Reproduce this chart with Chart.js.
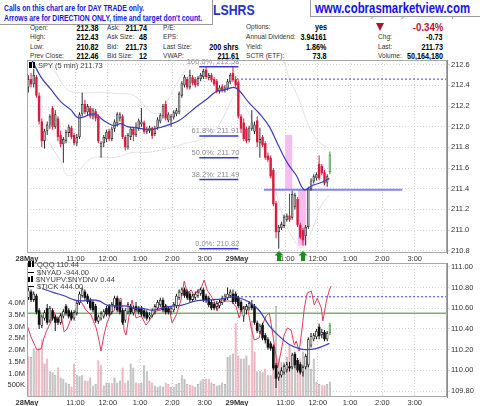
<!DOCTYPE html>
<html>
<head>
<meta charset="utf-8">
<script src="https://cdn.jsdelivr.net/npm/chart.js@4/dist/chart.umd.min.js"></script>
<style>
  body { margin: 0; width: 480px; height: 406px; overflow: hidden; background: #fff; position: relative;
         font-family: "Liberation Sans", Arial, sans-serif; }
  .abs { position: absolute; white-space: nowrap; line-height: 10px; }
  .lbl { font-size: 8px; color: #333; transform: scaleX(.82); transform-origin: left center; }
  .val { font-size: 9px; font-weight: bold; color: #000; transform: scaleX(.8); transform-origin: right center; }
  .box { position: absolute; background: #fff; border: 1px solid #9a9a9a; }
  .lg { font-size: 7.5px; color: #444; line-height: 8px; }
  canvas { position: absolute; left: 0; }
</style>
</head>
<body>

<!-- header -->
<div class="abs" style="left:352px;top:10px;font-size:8px;color:#777;">Friday&nbsp; 29 May 2015&nbsp; 12:25 pm</div>
<div class="abs" style="left:213px;top:2px;font-size:15px;line-height:16px;font-weight:bold;color:#2632c8;transform:scaleX(.82);transform-origin:left top;">LSHRS</div>
<div class="box" style="left:-1px;top:-1px;width:212px;height:24px;">
  <div class="abs" style="left:4px;top:3px;font-size:8.5px;font-weight:bold;color:#1515e6;transform:scaleX(.8);transform-origin:left center;">Calls on this chart are for DAY TRADE only.</div>
  <div class="abs" style="left:4px;top:13px;font-size:8.5px;font-weight:bold;color:#1515e6;transform:scaleX(.8);transform-origin:left center;">Arrows are for DIRECTION ONLY, time and target don't count.</div>
</div>
<div class="box" style="left:310px;top:-1px;width:171px;height:16px;">
  <div class="abs" style="left:4px;top:0px;font-size:15px;line-height:16px;font-weight:bold;color:#1212ea;transform:scaleX(.76);transform-origin:left top;">www.cobrasmarketview.com</div>
</div>

<div class="abs lbl" style="left:30px;top:23px;">Open:</div>
<div class="abs lbl" style="left:30px;top:32px;">High:</div>
<div class="abs lbl" style="left:30px;top:42px;">Low:</div>
<div class="abs lbl" style="left:30px;top:51px;">Prev Close:</div>
<div class="abs val" style="right:381px;top:23px;">212.38</div>
<div class="abs val" style="right:381px;top:32px;">212.43</div>
<div class="abs val" style="right:381px;top:42px;">210.82</div>
<div class="abs val" style="right:381px;top:51px;">212.46</div>

<div class="abs lbl" style="left:107px;top:23px;">Ask:</div>
<div class="abs lbl" style="left:107px;top:32px;">Ask Size:</div>
<div class="abs lbl" style="left:107px;top:42px;">Bid:</div>
<div class="abs lbl" style="left:107px;top:51px;">Bid Size:</div>
<div class="abs val" style="right:333px;top:23px;">211.74</div>
<div class="abs val" style="right:333px;top:32px;">48</div>
<div class="abs val" style="right:333px;top:42px;">211.73</div>
<div class="abs val" style="right:333px;top:51px;">12</div>

<div class="abs lbl" style="left:163px;top:23px;">P/E:</div>
<div class="abs lbl" style="left:163px;top:32px;">EPS:</div>
<div class="abs lbl" style="left:163px;top:42px;">Last Size:</div>
<div class="abs lbl" style="left:163px;top:51px;">VWAP:</div>
<div class="abs val" style="right:241px;top:42px;">200 shrs</div>
<div class="abs val" style="right:241px;top:51px;">211.61</div>

<div class="abs lbl" style="left:246px;top:22px;">Options:</div>
<div class="abs lbl" style="left:246px;top:32px;">Annual Dividend:</div>
<div class="abs lbl" style="left:246px;top:42px;">Yield:</div>
<div class="abs lbl" style="left:246px;top:51px;">SCTR (ETF):</div>
<div class="abs val" style="right:153px;top:22px;">yes</div>
<div class="abs val" style="right:153px;top:32px;">3.94161</div>
<div class="abs val" style="right:153px;top:42px;">1.86%</div>
<div class="abs val" style="right:153px;top:51px;">73.8</div>

<div class="abs" style="left:376px;top:23px;width:0;height:0;border-left:4.5px solid transparent;border-right:4.5px solid transparent;border-top:8px solid #9b1b30;"></div>
<div class="abs val" style="right:37px;top:21px;font-size:11.5px;line-height:12px;color:#b5123a;transform:scaleX(.84);">-0.34%</div>
<div class="abs lbl" style="left:378px;top:32px;">Chg:</div>
<div class="abs lbl" style="left:378px;top:42px;">Last:</div>
<div class="abs lbl" style="left:378px;top:51px;">Volume:</div>
<div class="abs val" style="right:37px;top:32px;">-0.73</div>
<div class="abs val" style="right:37px;top:42px;">211.73</div>
<div class="abs val" style="right:37px;top:51px;">50,164,180</div>

<canvas id="spy" width="480" height="206" style="top:58px;"></canvas>
<canvas id="qqq" width="480" height="144" style="top:262px;"></canvas>

<!-- panel legends -->
<div class="abs lg" style="left:29px;top:62px;"><span style="display:inline-block;width:3px;height:6px;background:#000;margin-right:1px;"></span><span style="display:inline-block;width:2px;height:6px;border:1px solid #000;margin-right:3px;box-sizing:border-box;"></span>SPY (5 min) 211.73</div>
<div class="abs lg" style="left:28px;top:261px;"><span style="display:inline-block;width:3px;height:6px;background:#000;margin-right:1px;"></span><span style="display:inline-block;width:2px;height:6px;border:1px solid #000;margin-right:3px;box-sizing:border-box;"></span>QQQ 110.44</div>
<div class="abs lg" style="left:28px;top:268.5px;"><span style="display:inline-block;width:6px;height:1.5px;background:#000;vertical-align:middle;margin-right:3px;"></span>$NYAD -944.00</div>
<div class="abs lg" style="left:28px;top:275.5px;"><span style="display:inline-block;width:2px;height:5px;background:#000;margin-right:1px;"></span><span style="display:inline-block;width:2px;height:6px;background:#000;margin-right:3px;"></span>$NYUPV:$NYDNV 0.44</div>
<div class="abs lg" style="left:28px;top:282.5px;"><span style="display:inline-block;width:6px;height:1.5px;background:#000;vertical-align:middle;margin-right:3px;"></span>$TICK 444.00</div>

<script>
// ---- time axis: bar index 0 = 9:30 on 28 May, 78 bars per session ----
const xTickPos = [0, 18, 30, 42, 54, 66, 78, 96, 108, 120, 132, 144];
const xTickLabels = ['28May', '11:00', '12:00', '1:00', '2:00', '3:00', '29May', '11:00', '12:00', '1:00', '2:00', '3:00'];

const spyTicks = [210.8, 210.9, 211.0, 211.1, 211.2, 211.3, 211.4, 211.5, 211.6, 211.7, 211.8, 211.9,
                  212.0, 212.1, 212.2, 212.3, 212.4, 212.5, 212.6];
const qqqTicks = [109.8, 109.9, 110.0, 110.1, 110.2, 110.3, 110.4, 110.5, 110.6, 110.7, 110.8, 110.9, 111.0];
const volTicks = [0.5, 1.0, 1.5, 2.0, 2.5, 3.0, 3.5, 4.0];          // millions of shares
const volTickLabels = ['500K', '1.0M', '1.5M', '2.0M', '2.5M', '3.0M', '3.5M', '4.0M'];

// ---- SPY 5 min candles ----
const spyOpen = [
  212.38, 212.46, 212.41, 212.48, 212.30, 212.05, 211.86, 211.96, 212.02, 212.18,
  212.00, 212.08, 211.92, 211.83, 211.86, 211.94, 211.99, 211.92, 211.84, 211.90,
  212.12, 212.22, 212.14, 212.18, 212.10, 212.15, 212.10, 211.80, 211.84, 211.88,
  211.96, 211.88, 211.98, 212.03, 212.08, 212.10, 211.90, 211.80, 211.90, 211.98,
  211.92, 211.98, 212.02, 212.04, 211.95, 211.96, 211.99, 211.93, 211.99, 212.05,
  212.10, 212.22, 212.06, 212.06, 212.09, 212.12, 212.14, 212.30, 212.40, 212.46,
  212.38, 212.48, 212.46, 212.41, 212.46, 212.48, 212.55, 212.47, 212.50, 212.46,
  212.44, 212.34, 212.39, 212.35, 212.37, 212.43, 212.52, 212.46,
  212.43, 212.10, 212.04, 211.98, 211.87, 211.98, 211.95, 212.06, 211.84, 211.90, 211.84, 211.72,
  211.70, 211.58, 211.26, 210.98, 211.02, 211.04, 211.10, 211.14, 211.12, 211.22,
  211.30, 211.05, 211.00, 210.94, 211.03, 211.40, 211.47, 211.50, 211.64, 211.62,
  211.56, 211.46, 211.56];
const spyHigh = [
  212.50, 212.52, 212.56, 212.50, 212.33, 212.08, 211.98, 212.05, 212.12, 212.20,
  212.16, 212.10, 211.96, 211.90, 211.97, 212.02, 212.01, 211.94, 211.93, 212.14,
  212.33, 212.26, 212.22, 212.20, 212.18, 212.17, 212.12, 211.86, 211.92, 211.97,
  211.98, 212.00, 212.07, 212.14, 212.14, 212.12, 211.92, 211.94, 212.00, 212.00,
  212.04, 212.08, 212.18, 212.06, 212.00, 212.01, 212.00, 212.01, 212.09, 212.13,
  212.22, 212.25, 212.14, 212.12, 212.16, 212.18, 212.34, 212.44, 212.50, 212.48,
  212.55, 212.50, 212.48, 212.49, 212.52, 212.56, 212.58, 212.52, 212.52, 212.48,
  212.46, 212.40, 212.41, 212.40, 212.46, 212.52, 212.58, 212.49,
  212.45, 212.12, 212.08, 212.00, 212.01, 212.16, 212.05, 212.10, 211.99, 211.92, 211.86, 211.75,
  211.72, 211.60, 211.28, 211.05, 211.08, 211.15, 211.16, 211.35, 211.38, 211.36,
  211.32, 211.07, 211.02, 211.05, 211.42, 211.50, 211.54, 211.56, 211.72, 211.64,
  211.58, 211.54, 211.76];
const spyLow = [
  212.33, 212.38, 212.38, 212.28, 212.02, 211.80, 211.79, 211.92, 211.98, 211.97,
  211.98, 211.86, 211.80, 211.65, 211.84, 211.90, 211.88, 211.82, 211.81, 211.88,
  212.10, 212.12, 212.11, 212.08, 212.07, 212.05, 211.84, 211.70, 211.80, 211.85,
  211.86, 211.86, 211.95, 212.00, 212.05, 211.88, 211.77, 211.78, 211.87, 211.86,
  211.90, 211.96, 212.00, 211.93, 211.93, 211.94, 211.88, 211.91, 211.97, 212.03,
  212.08, 212.06, 212.04, 212.00, 212.07, 212.10, 212.12, 212.28, 212.38, 212.36,
  212.36, 212.40, 212.38, 212.39, 212.44, 212.46, 212.46, 212.45, 212.43, 212.39,
  212.32, 212.32, 212.33, 212.33, 212.35, 212.41, 212.43, 212.38,
  212.08, 211.94, 211.86, 211.84, 211.85, 211.96, 211.93, 211.80, 211.70, 211.80, 211.68, 211.66,
  211.50, 211.23, 210.92, 210.82, 211.00, 211.02, 211.08, 211.08, 211.10, 211.20,
  211.03, 210.91, 210.85, 210.85, 211.01, 211.38, 211.45, 211.48, 211.48, 211.53,
  211.43, 211.42, 211.54];
const spyClose = [
  212.46, 212.41, 212.50, 212.30, 212.05, 211.86, 211.96, 212.02, 212.10, 212.00,
  212.12, 211.90, 211.83, 211.88, 211.95, 212.00, 211.90, 211.84, 211.90, 212.12,
  212.22, 212.14, 212.20, 212.10, 212.16, 212.08, 211.86, 211.84, 211.90, 211.95,
  211.88, 211.98, 212.05, 212.12, 212.12, 211.90, 211.80, 211.92, 211.98, 211.92,
  212.00, 212.06, 212.05, 211.95, 211.98, 211.99, 211.91, 211.99, 212.07, 212.11,
  212.20, 212.08, 212.12, 212.10, 212.14, 212.16, 212.32, 212.42, 212.48, 212.38,
  212.50, 212.42, 212.40, 212.47, 212.50, 212.54, 212.48, 212.50, 212.45, 212.41,
  212.34, 212.38, 212.35, 212.38, 212.44, 212.50, 212.45, 212.40,
  212.10, 211.98, 211.88, 211.86, 211.99, 212.04, 212.02, 211.85, 211.88, 211.82, 211.70, 211.68,
  211.52, 211.25, 210.98, 211.03, 211.06, 211.13, 211.14, 211.10, 211.35, 211.34,
  211.05, 210.93, 210.90, 211.03, 211.40, 211.48, 211.52, 211.54, 211.50, 211.55,
  211.45, 211.52, 211.73];

// SPY overlays: [bar position, price]
const spyMA = [[1.5, 212.66], [5.2, 212.48], [8.9, 212.36], [12.6, 212.24], [16.4, 212.16], [18.6, 212.09],
  [20.4, 212.09], [23.8, 212.12], [25.7, 212.12], [27.5, 212.08], [29.7, 212.04], [32.3, 212.01],
  [34.9, 212.03], [37.2, 212.00], [40.5, 211.99], [45.4, 211.97], [49.1, 211.99], [52.8, 212.02],
  [56.5, 212.06], [59.1, 212.11], [62.8, 212.19], [66.5, 212.26], [70.3, 212.34], [72.5, 212.35],
  [75.1, 212.37], [76.9, 212.38], [78.8, 212.35], [82.5, 212.23], [86.2, 212.13], [90.0, 212.00],
  [93.7, 211.80], [96.7, 211.65], [100.0, 211.53], [103.0, 211.39], [105.9, 211.43], [109.3, 211.46],
  [112.3, 211.50]];
const spyUpperBand = [[7.4, 212.70], [10.8, 212.52], [14.5, 212.37], [18.2, 212.33], [26.8, 212.33],
  [34.2, 212.32], [39.8, 212.30], [43.5, 212.21], [46.1, 212.14], [49.1, 212.13], [51.7, 212.23],
  [54.6, 212.37], [57.6, 212.50], [61.0, 212.62], [63.9, 212.72], [69.5, 212.79], [78.8, 212.79],
  [88.1, 212.74], [94.8, 212.64], [97.4, 212.47], [101.1, 212.26], [104.8, 212.00], [108.6, 211.85],
  [112.3, 211.79]];
const spyLowerBand = [[6.3, 211.92], [10.0, 211.77], [12.6, 211.66], [14.9, 211.53], [18.6, 211.56],
  [23.0, 211.68], [26.8, 211.71], [30.5, 211.70], [34.2, 211.71], [39.0, 211.75], [44.2, 211.75],
  [49.1, 211.77], [53.9, 211.80], [59.1, 211.84], [63.9, 211.87], [68.8, 211.94], [72.1, 212.05],
  [75.1, 212.21], [77.7, 212.31], [80.7, 212.21], [84.4, 212.02], [88.1, 211.77], [91.8, 211.43],
  [95.5, 211.10], [99.3, 210.90], [102.2, 210.83], [105.9, 211.00], [109.3, 211.24], [112.3, 211.34]];

const fibLevels = [212.58, 211.91, 211.70, 211.49, 210.82];
const fibLabels = ['100.0%: 212.58', '61.8%: 211.91', '50.0%: 211.70', '38.2%: 211.49', '0.0%: 210.82'];
const fibSpan = [64, 78.5];
const spyPrevClose = 212.46;
const spyLevel = 211.39;
const spyLevelSpan = [88, 139.4];
const zones = [[95.9, 98.5, 211.39, 211.92], [100.7, 103.7, 210.85, 211.39]];   // x0, x1, low, high
const arrowsAt = [93.6, 102.5];

// ---- QQQ 5 min candles ----
const qqqOpen = [
  110.70, 110.76, 110.68, 110.72, 110.58, 110.43, 110.50, 110.60, 110.48, 110.58,
  110.52, 110.50, 110.46, 110.52, 110.62, 110.58, 110.56, 110.50, 110.55, 110.65,
  110.72, 110.76, 110.72, 110.68, 110.66, 110.62, 110.47, 110.50, 110.52, 110.60,
  110.62, 110.56, 110.62, 110.70, 110.66, 110.58, 110.48, 110.56, 110.62, 110.55,
  110.62, 110.60, 110.60, 110.58, 110.56, 110.51, 110.53, 110.56, 110.60, 110.63,
  110.68, 110.62, 110.60, 110.56, 110.58, 110.62, 110.70, 110.74, 110.78, 110.76,
  110.74, 110.68, 110.70, 110.72, 110.74, 110.78, 110.72, 110.70, 110.66, 110.64,
  110.61, 110.62, 110.65, 110.68, 110.70, 110.72, 110.74, 110.74,
  110.70, 110.66, 110.52, 110.58, 110.60, 110.64, 110.62, 110.46, 110.37, 110.44, 110.34, 110.30,
  110.26, 110.23, 110.05, 109.93, 109.95, 109.98, 110.00, 110.04, 110.03, 110.16,
  110.10, 110.06, 109.98, 110.03, 110.05, 110.24, 110.30, 110.32, 110.42, 110.34,
  110.37, 110.30, 110.36];
const qqqHigh = [
  110.80, 110.78, 110.76, 110.74, 110.60, 110.54, 110.58, 110.64, 110.62, 110.60,
  110.54, 110.52, 110.55, 110.59, 110.64, 110.60, 110.58, 110.58, 110.67, 110.76,
  110.80, 110.78, 110.74, 110.70, 110.68, 110.64, 110.54, 110.57, 110.59, 110.62,
  110.64, 110.66, 110.72, 110.72, 110.68, 110.60, 110.60, 110.66, 110.64, 110.62,
  110.66, 110.62, 110.62, 110.60, 110.58, 110.56, 110.60, 110.64, 110.68, 110.70,
  110.70, 110.64, 110.62, 110.62, 110.66, 110.74, 110.78, 110.80, 110.80, 110.78,
  110.76, 110.74, 110.76, 110.78, 110.80, 110.80, 110.74, 110.72, 110.68, 110.66,
  110.67, 110.68, 110.72, 110.74, 110.80, 110.78, 110.78, 110.76,
  110.72, 110.68, 110.62, 110.64, 110.67, 110.68, 110.64, 110.48, 110.45, 110.46, 110.36, 110.32,
  110.28, 110.25, 110.07, 109.99, 110.03, 110.06, 110.08, 110.08, 110.17, 110.18,
  110.12, 110.08, 110.05, 110.16, 110.32, 110.36, 110.36, 110.40, 110.45, 110.40,
  110.39, 110.38, 110.46];
const qqqLow = [
  110.68, 110.66, 110.66, 110.54, 110.40, 110.41, 110.48, 110.44, 110.46, 110.48,
  110.38, 110.44, 110.44, 110.50, 110.53, 110.50, 110.48, 110.48, 110.53, 110.63,
  110.70, 110.68, 110.64, 110.58, 110.56, 110.46, 110.45, 110.48, 110.50, 110.52,
  110.52, 110.54, 110.60, 110.56, 110.54, 110.44, 110.46, 110.54, 110.54, 110.53,
  110.56, 110.54, 110.52, 110.50, 110.48, 110.49, 110.51, 110.54, 110.58, 110.61,
  110.56, 110.54, 110.54, 110.54, 110.56, 110.60, 110.68, 110.72, 110.70, 110.68,
  110.66, 110.66, 110.68, 110.70, 110.72, 110.66, 110.65, 110.61, 110.58, 110.58,
  110.59, 110.60, 110.63, 110.66, 110.68, 110.70, 110.64, 110.64,
  110.60, 110.56, 110.47, 110.54, 110.58, 110.58, 110.44, 110.36, 110.35, 110.29, 110.26, 110.20,
  110.19, 110.00, 109.83, 109.90, 109.93, 109.96, 109.98, 109.99, 110.01, 110.02,
  109.98, 109.96, 109.94, 110.01, 110.03, 110.22, 110.28, 110.30, 110.30, 110.31,
  110.28, 110.28, 110.34];
const qqqClose = [
  110.77, 110.68, 110.74, 110.56, 110.44, 110.52, 110.56, 110.46, 110.60, 110.50,
  110.46, 110.46, 110.53, 110.57, 110.55, 110.52, 110.50, 110.56, 110.65, 110.74,
  110.78, 110.70, 110.66, 110.60, 110.58, 110.48, 110.52, 110.55, 110.57, 110.54,
  110.54, 110.64, 110.70, 110.58, 110.56, 110.46, 110.58, 110.64, 110.56, 110.60,
  110.58, 110.56, 110.54, 110.52, 110.50, 110.54, 110.58, 110.62, 110.66, 110.68,
  110.58, 110.56, 110.56, 110.60, 110.64, 110.72, 110.76, 110.78, 110.72, 110.70,
  110.68, 110.72, 110.74, 110.76, 110.78, 110.68, 110.67, 110.63, 110.60, 110.60,
  110.65, 110.66, 110.70, 110.72, 110.74, 110.76, 110.66, 110.66,
  110.62, 110.58, 110.60, 110.62, 110.65, 110.60, 110.46, 110.38, 110.43, 110.31, 110.29, 110.22,
  110.21, 110.02, 109.92, 109.97, 110.00, 110.04, 110.06, 110.02, 110.15, 110.05,
  110.00, 109.98, 110.03, 110.14, 110.30, 110.33, 110.34, 110.38, 110.33, 110.37,
  110.30, 110.36, 110.44];

// volume in millions of shares, and whether the bar is drawn pink (1) or grey (0)
const volume = [
  1.73, 1.70, 2.07, 1.99, 2.10, 2.45, 1.43, 1.64, 1.10, 1.05,
  0.95, 1.26, 0.83, 0.78, 0.62, 0.55, 0.45, 1.43, 0.92, 0.88,
  0.92, 0.70, 0.68, 0.83, 0.49, 0.55, 1.56, 1.35, 0.49, 0.62,
  0.58, 0.58, 0.83, 0.62, 0.70, 1.26, 0.62, 0.70, 1.43, 1.26,
  0.62, 0.58, 0.62, 1.35, 1.10, 0.70, 0.62, 0.49, 0.43, 0.49,
  0.45, 0.62, 0.55, 0.43, 0.43, 0.55, 0.60, 0.92, 0.78, 0.55,
  0.52, 0.49, 0.43, 0.55, 0.70, 0.78, 0.78, 0.78, 0.62, 0.55,
  0.49, 0.52, 0.62, 0.55, 1.70, 1.78, 1.85, 3.14,
  1.77, 1.64, 1.64, 1.77, 1.35, 3.23, 1.94, 1.10, 1.10, 1.05, 1.20, 0.92,
  0.92, 1.35, 3.87, 1.64, 1.50, 1.50, 1.70, 2.20, 1.64, 1.64,
  1.20, 1.64, 1.94, 1.50, 1.50, 1.20, 1.64, 0.66, 0.55, 0.50,
  0.50, 0.55, 0.66];
const volPink = [
  1, 0, 0, 1, 1, 1, 0, 1, 0, 0,
  0, 1, 0, 0, 0, 0, 1, 1, 0, 0,
  0, 1, 1, 0, 0, 0, 1, 1, 0, 0,
  0, 1, 0, 0, 0, 1, 1, 0, 0, 0,
  1, 1, 0, 0, 0, 1, 1, 0, 0, 0,
  0, 1, 1, 0, 0, 0, 0, 0, 0, 1,
  1, 1, 0, 0, 0, 0, 1, 1, 0, 1,
  0, 0, 0, 0, 0, 0, 0, 1,
  1, 0, 0, 0, 1, 1, 1, 0, 0, 0, 1, 0,
  0, 1, 0, 1, 0, 0, 0, 1, 0, 0,
  1, 1, 0, 0, 0, 0, 0, 1, 0, 1,
  1, 0, 0];

const qqqMA = [[5.6, 110.79], [10.0, 110.75], [13.8, 110.72], [17.5, 110.68], [20.4, 110.67], [23.8, 110.68],
  [26.8, 110.67], [29.7, 110.63], [33.5, 110.62], [37.2, 110.62], [39.8, 110.60], [42.8, 110.60],
  [46.5, 110.58], [50.2, 110.60], [53.9, 110.62], [57.6, 110.63], [62.8, 110.67], [67.7, 110.68],
  [72.5, 110.69], [76.2, 110.71], [78.8, 110.70], [82.5, 110.66], [86.2, 110.58], [90.0, 110.43],
  [93.7, 110.33], [97.4, 110.25], [101.1, 110.21], [103.7, 110.20], [107.4, 110.21], [112.3, 110.26]];
// $TICK line
const tickLine = [[0, -24], [1.5, -168], [3.7, -324], [5.2, -312], [6.3, -180], [7.4, -84], [8.9, 12],
  [10.0, 132], [11.2, 24], [12.6, 108], [13.8, -108], [14.9, -72], [16.4, 60], [17.5, 96], [19.3, 264],
  [20.4, 240], [21.9, 156], [23.8, 96], [25.7, -60], [26.8, -216], [27.5, -336], [28.6, -144], [29.7, 0],
  [31.2, 120], [32.3, 144], [33.5, 264], [34.9, 300], [35.5, 144], [36.1, -96], [36.8, -144], [37.9, 84],
  [39.0, 276], [40.5, 60], [42.4, 84], [44.2, -24], [45.4, 24], [46.5, 84], [48.0, 144], [49.8, 156],
  [51.7, 216], [52.8, 180], [53.9, 0], [55.4, 96], [57.2, 276], [58.4, 504], [59.5, 360], [61.0, 396],
  [62.1, 324], [63.2, 384], [64.7, 420], [65.8, 516], [66.9, 396], [68.4, 324], [69.5, 264], [70.6, 144],
  [72.1, 276], [73.2, 264], [75.1, 264], [76.2, 252], [77.7, 192], [78.8, 60], [79.9, 180], [81.8, 204],
  [83.3, -60], [84.4, -204], [86.2, -180], [87.4, -24], [88.8, 84], [90.0, 120], [91.1, -96], [92.6, -420],
  [93.1, -540], [94.4, -336], [95.5, -144], [96.7, -60], [98.1, -84], [99.3, -264], [100.0, -216],
  [101.1, -336], [102.2, -60], [103.0, 180], [104.1, 360], [105.6, 384], [106.7, 216], [107.8, 300],
  [109.3, 180], [109.9, 24], [111.2, 264], [112.3, 396], [113.0, 444]];
const qqqPrevClose = 110.71;
const qqqLevel = 110.55;

// ---------------------------------------------------------------------------
Chart.defaults.font.family = '"Liberation Sans", Arial, sans-serif';
Chart.defaults.font.size = 7.5;
Chart.defaults.color = '#333';
Chart.defaults.animation = false;
Chart.defaults.plugins.legend.display = false;
Chart.defaults.plugins.tooltip.enabled = false;
Chart.defaults.elements.point.radius = 0;

const GRID = '#d6d6d6';
const pts = arr => arr.map(p => ({ x: p[0], y: p[1] }));
const hline = (from, to, v) => [{ x: from, y: v }, { x: to, y: v }];

// candle pieces as floating bars, one dataset per colour
function wickData(h, l, pick) {
  const out = [];
  h.forEach((_, i) => { if (pick(i)) out.push({ x: i + 0.5, y: [l[i], h[i]] }); });
  return out;
}
function bodyData(o, c, pick) {
  const out = [];
  o.forEach((_, i) => { if (pick(i)) out.push({ x: i + 0.5, y: [o[i], c[i]] }); });
  return out;
}
function barSet(data, opts) {
  return Object.assign({ type: 'bar', data, grouped: false, borderSkipped: false, minBarLength: 1,
    inflateAmount: 0, borderWidth: 0 }, opts);
}
function lineSet(data, opts) {
  return Object.assign({ type: 'line', data, pointRadius: 0, fill: false, tension: 0 }, opts);
}

function xAxis(height) {
  return {
    type: 'linear', min: 0, max: 156, offset: false,
    afterBuildTicks: s => { s.ticks = xTickPos.map(v => ({ value: v })); },
    afterFit: s => { s.height = height; s.paddingLeft = 0; s.paddingRight = 0; },
    ticks: {
      autoSkip: false, maxRotation: 0, padding: 1,
      callback: v => xTickLabels[xTickPos.indexOf(v)],
      font: ctx => ({ size: 7.5, weight: (ctx.tick && String(ctx.tick.label).includes('May')) ? 'bold' : 'normal' })
    },
    grid: { color: GRID, drawTicks: false, offset: false },
    border: { display: false, dash: [1, 2] }
  };
}

function frameAndArrows(arrows) {
  return {
    id: 'frame',
    afterDraw(chart) {
      const { ctx, chartArea: a, scales: { x } } = chart;
      ctx.save();
      ctx.strokeStyle = '#a8a8a8';
      ctx.lineWidth = 1;
      ctx.strokeRect(a.left + 0.5, a.top + 0.5, a.right - a.left - 1, a.bottom - a.top - 1);
      ctx.fillStyle = '#14901c';
      arrows.forEach(v => {
        const px = Math.round(x.getPixelForValue(v));
        const top = a.bottom - 2;
        ctx.beginPath();
        ctx.moveTo(px, top);
        ctx.lineTo(px + 4.5, top + 4.5);
        ctx.lineTo(px + 2, top + 4.5);
        ctx.lineTo(px + 2, top + 10);
        ctx.lineTo(px - 2, top + 10);
        ctx.lineTo(px - 2, top + 4.5);
        ctx.lineTo(px - 4.5, top + 4.5);
        ctx.closePath();
        ctx.fill();
      });
      ctx.restore();
    }
  };
}

const spyMarks = {
  id: 'spyMarks',
  beforeDatasetsDraw(chart) {
    const { ctx, scales: { x, y } } = chart;
    ctx.save();
    ctx.fillStyle = '#f5bdee';
    zones.forEach(([x0, x1, lo, hi]) => {
      const px0 = x.getPixelForValue(x0), px1 = x.getPixelForValue(x1);
      const py0 = y.getPixelForValue(hi), py1 = y.getPixelForValue(lo);
      ctx.fillRect(px0, py0, px1 - px0, py1 - py0);
    });
    ctx.restore();
  },
  afterDatasetsDraw(chart) {
    const { ctx, scales: { x, y } } = chart;
    ctx.save();
    ctx.font = '7.5px "Liberation Sans", Arial, sans-serif';
    ctx.fillStyle = '#8c8c8c';
    ctx.textAlign = 'right';
    ctx.textBaseline = 'bottom';
    fibLevels.forEach((v, i) => {
      ctx.fillText(fibLabels[i], x.getPixelForValue(fibSpan[1]) + 1, y.getPixelForValue(v) - 1);
    });
    ctx.restore();
  }
};

// ---- SPY panel ----
const sLast = spyClose.length - 1;
const sUp = i => i !== sLast && spyClose[i] >= spyOpen[i];
const sDn = i => i !== sLast && spyClose[i] < spyOpen[i];
const sEnd = i => i === sLast;

const spyDatasets = [
  lineSet(pts(spyMA), { borderColor: '#3d3dbe', borderWidth: 1.2, tension: 0.4, order: 1 }),
  barSet(bodyData(spyOpen, spyClose, sUp), { backgroundColor: '#b4b4b4', borderColor: '#2c2c2c', borderWidth: 0.8, barThickness: 2.6, order: 2 }),
  barSet(bodyData(spyOpen, spyClose, sDn), { backgroundColor: '#d61d40', barThickness: 2.4, order: 2 }),
  barSet(bodyData(spyOpen, spyClose, sEnd), { backgroundColor: '#8ad888', borderColor: '#3c8c3c', borderWidth: 0.8, barThickness: 2.6, order: 2 }),
  barSet(wickData(spyHigh, spyLow, sUp), { backgroundColor: '#2c2c2c', barThickness: 1, order: 3 }),
  barSet(wickData(spyHigh, spyLow, sDn), { backgroundColor: '#d61d40', barThickness: 1, order: 3 }),
  barSet(wickData(spyHigh, spyLow, sEnd), { backgroundColor: '#3c8c3c', barThickness: 1, order: 3 }),
  lineSet(hline(78, 156, spyPrevClose), { borderColor: '#3a3ae6', borderWidth: 1, borderDash: [2, 2], order: 4 }),
  lineSet(hline(spyLevelSpan[0], spyLevelSpan[1], spyLevel), { borderColor: '#8585ee', borderWidth: 2, order: 4 }),
  ...fibLevels.map(v => lineSet(hline(fibSpan[0], fibSpan[1], v), { borderColor: '#3a3ad2', borderWidth: 1.5, order: 4 })),
  lineSet(pts(spyUpperBand), { borderColor: '#e2e2e2', borderWidth: 1, tension: 0.4, order: 6 }),
  lineSet(pts(spyLowerBand), { borderColor: '#e2e2e2', borderWidth: 1, tension: 0.4, order: 6 })
];

new Chart(document.getElementById('spy'), {
  type: 'line',
  data: { datasets: spyDatasets },
  options: {
    responsive: false,
    layout: { padding: { left: 27, top: 2, right: 0, bottom: 0 } },
    scales: {
      x: xAxis(11),
      y: {
        type: 'linear', position: 'right', min: 210.778, max: 212.645,
        afterBuildTicks: s => { s.ticks = spyTicks.map(v => ({ value: v })); },
        afterFit: s => { s.width = 33; s.paddingTop = 0; s.paddingBottom = 0; },
        ticks: { padding: 1, callback: v => v.toFixed(1) },
        grid: { color: GRID, drawTicks: true, tickLength: 3 },
        border: { display: true, color: '#8a8a8a', dash: [1, 2] }
      }
    }
  },
  plugins: [spyMarks, frameAndArrows(arrowsAt)]
});

// ---- QQQ panel ----
const qLast = qqqClose.length - 1;
const qUp = i => i !== qLast && qqqClose[i] >= qqqOpen[i];
const qDn = i => i !== qLast && qqqClose[i] < qqqOpen[i];
const qEnd = i => i === qLast;

const qqqDatasets = [
  lineSet(pts(qqqMA), { borderColor: '#3d3dbe', borderWidth: 1.2, tension: 0.4, order: 1, yAxisID: 'y' }),
  barSet(bodyData(qqqOpen, qqqClose, qUp), { backgroundColor: '#ffffff', borderColor: '#111', borderWidth: 0.8, barThickness: 2.6, order: 2, yAxisID: 'y' }),
  barSet(bodyData(qqqOpen, qqqClose, qDn), { backgroundColor: '#111', barThickness: 2.6, order: 2, yAxisID: 'y' }),
  barSet(bodyData(qqqOpen, qqqClose, qEnd), { backgroundColor: '#8ad888', borderColor: '#3c8c3c', borderWidth: 0.8, barThickness: 2.6, order: 2, yAxisID: 'y' }),
  barSet(wickData(qqqHigh, qqqLow, i => i !== qLast), { backgroundColor: '#111', barThickness: 1, order: 3, yAxisID: 'y' }),
  barSet(wickData(qqqHigh, qqqLow, qEnd), { backgroundColor: '#3c8c3c', barThickness: 1, order: 3, yAxisID: 'y' }),
  lineSet(pts(tickLine), { borderColor: '#e23a5c', borderWidth: 1, order: 4, yAxisID: 'yt' }),
  lineSet(hline(78, 156, qqqPrevClose), { borderColor: '#3a3ae6', borderWidth: 1, borderDash: [2, 2], order: 5, yAxisID: 'y' }),
  lineSet(hline(0, 156, qqqLevel), { borderColor: '#79b279', borderWidth: 1.5, order: 5, yAxisID: 'y' }),
  barSet(volume.map((v, i) => ({ x: i + 0.5, y: v })), {
    backgroundColor: volPink.map(p => p ? '#f0b1bb' : '#bdbdbd'),
    borderColor: volPink.map(p => p ? '#e0909e' : '#a2a2a2'),
    borderWidth: 0.6, borderSkipped: 'start', barThickness: 2.2, minBarLength: 0, order: 10, yAxisID: 'yv'
  })
];

new Chart(document.getElementById('qqq'), {
  type: 'line',
  data: { datasets: qqqDatasets },
  options: {
    responsive: false,
    layout: { padding: { left: 0, top: 1, right: 0, bottom: 0 } },
    scales: {
      x: xAxis(9),
      y: {
        type: 'linear', position: 'right', min: 109.743, max: 111.036,
        afterBuildTicks: s => { s.ticks = qqqTicks.map(v => ({ value: v })); },
        afterFit: s => { s.width = 33; s.paddingTop = 0; s.paddingBottom = 0; },
        ticks: { padding: 1, callback: v => v.toFixed(2) },
        grid: { color: GRID, drawTicks: true, tickLength: 3 },
        border: { display: true, color: '#8a8a8a', dash: [1, 2] }
      },
      yv: {
        type: 'linear', position: 'left', min: 0, max: 5.70,
        afterBuildTicks: s => { s.ticks = volTicks.map(v => ({ value: v })); },
        afterFit: s => { s.width = 27; s.paddingTop = 0; s.paddingBottom = 0; },
        ticks: { padding: 2, callback: v => volTickLabels[volTicks.indexOf(v)] },
        grid: { display: false, drawTicks: false },
        border: { display: false }
      },
      yt: { type: 'linear', display: false, min: -888, max: 720 }
    }
  },
  plugins: [frameAndArrows([])]
});
</script>
</body>
</html>
